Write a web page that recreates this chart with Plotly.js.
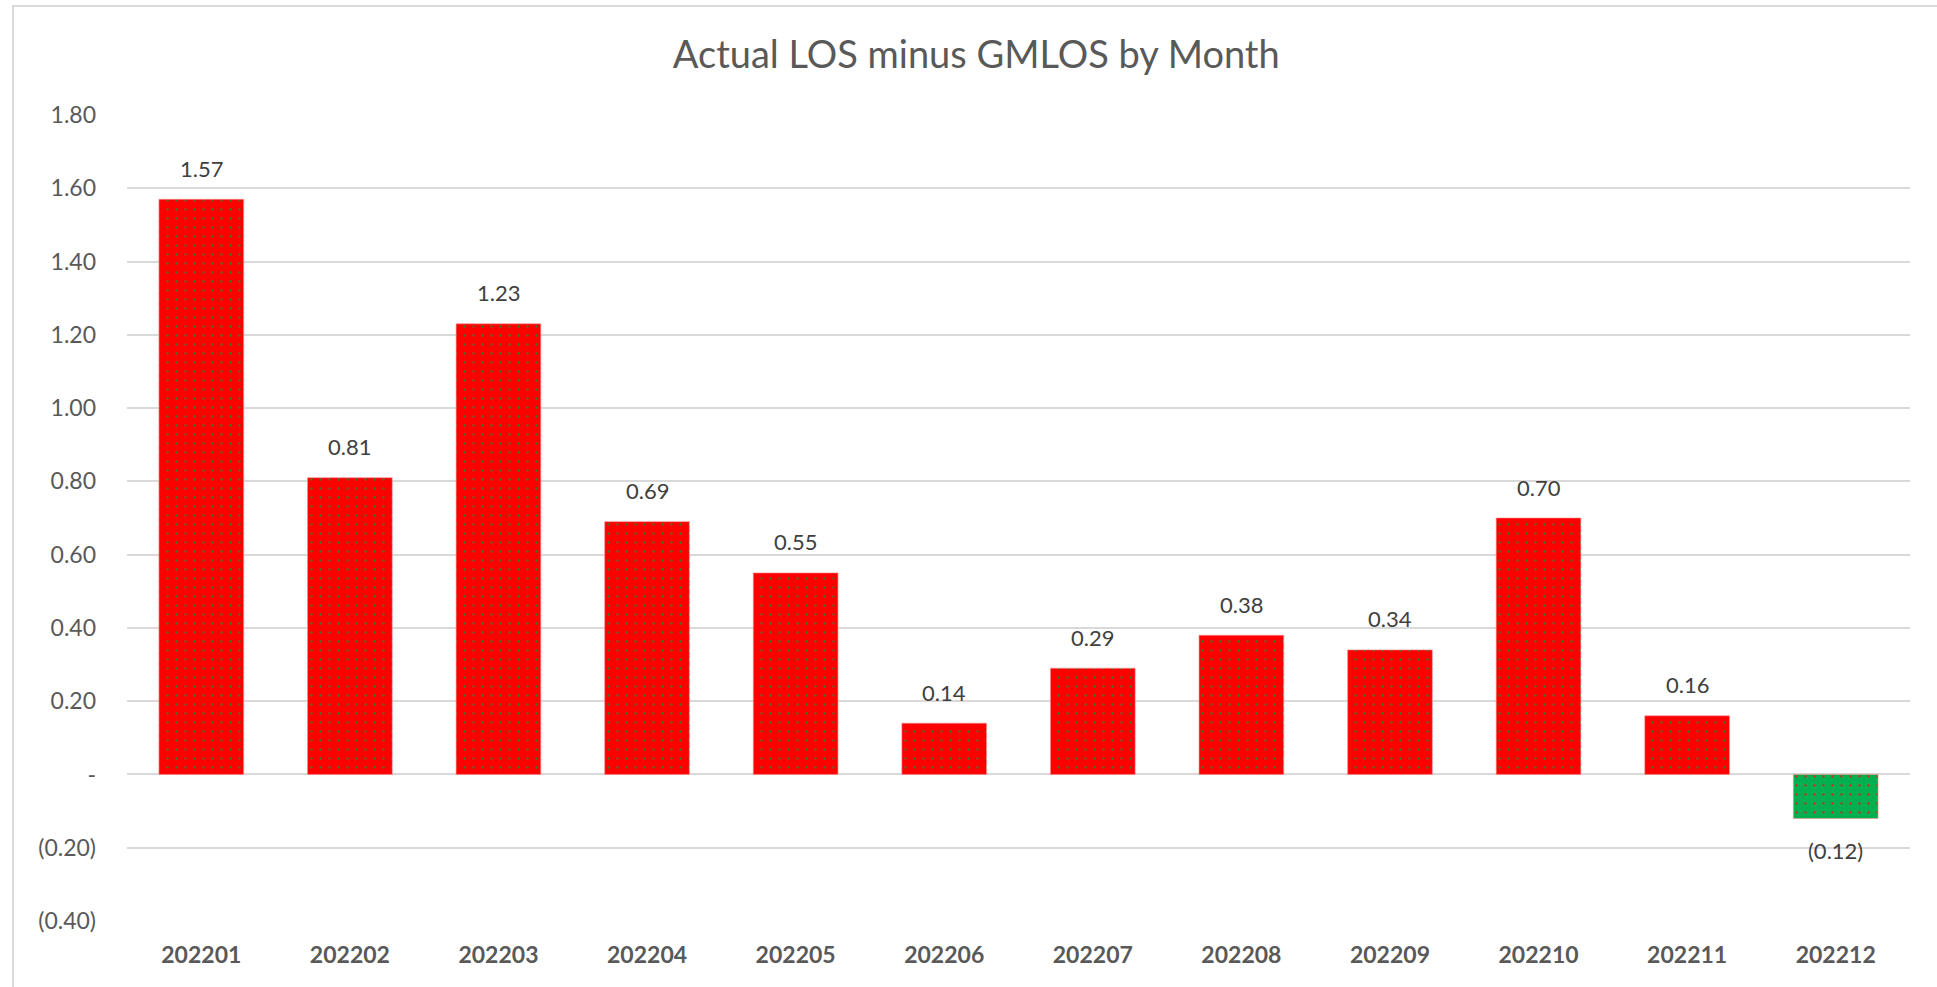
<!DOCTYPE html>
<html>
<head>
<meta charset="utf-8">
<script src="https://cdn.plot.ly/plotly-3.0.1.min.js"></script>
<style>
  html, body { margin: 0; padding: 0; background: #ffffff; }
  #wrap { position: relative; width: 1937px; height: 987px; overflow: hidden; }
  #frame { position: absolute; left: 12px; top: 5px; width: 1980px; height: 1040px;
           border-left: 2px solid #d9d9d9; border-top: 2px solid #d9d9d9; box-sizing: border-box; }
  #chart { position: absolute; left: 0; top: 0; width: 1937px; height: 987px; }
</style>
</head>
<body>
<div id="wrap">
  <div id="frame"></div>
  <div id="chart"></div>
</div>
<script>
const months = ["202201","202202","202203","202204","202205","202206","202207","202208","202209","202210","202211","202212"];
const losDiff = [1.57, 0.81, 1.23, 0.69, 0.55, 0.14, 0.29, 0.38, 0.34, 0.70, 0.16, -0.12];
const yTickVals = [-0.4, -0.2, 0, 0.2, 0.4, 0.6, 0.8, 1.0, 1.2, 1.4, 1.6, 1.8];
const yTickText = ["(0.40)", "(0.20)", "-", "0.20", "0.40", "0.60", "0.80", "1.00", "1.20", "1.40", "1.60", "1.80"];

const fmt = v => v < 0 ? "(" + Math.abs(v).toFixed(2) + ")" : v.toFixed(2);

function barTrace(values, fill, dot) {
  return {
    type: "bar",
    x: months,
    y: values,
    marker: {
      color: fill,
      line: { color: "rgba(255,140,140,0.6)", width: 1 },
      pattern: { shape: ".", fgcolor: dot, bgcolor: fill, fgopacity: 1,
                 size: 9, solidity: 0.05, fillmode: "replace" }
    },
    hoverinfo: "skip",
    showlegend: false
  };
}

const positive = losDiff.map(v => v >= 0 ? v : null);
const negative = losDiff.map(v => v < 0 ? v : null);

const traces = [
  barTrace(positive, "#FF0000", "#2E7D32"),
  barTrace(negative, "#00B050", "#E0201A")
];

// annotations placed by category index on the category axis
const annotations = months.map((m, i) => ({
  x: i, y: losDiff[i], xref: "x", yref: "y",
  text: fmt(losDiff[i]), showarrow: false,
  yanchor: "middle", yshift: losDiff[i] < 0 ? -32 : 31,
  font: { family: "Lato, 'Open Sans', sans-serif", size: 22, color: "#404040" }
}));

const layout = {
  width: 1937, height: 987,
  margin: { l: 127, r: 27, t: 115, b: 66, pad: 0 },
  paper_bgcolor: "rgba(0,0,0,0)",
  plot_bgcolor: "rgba(0,0,0,0)",
  title: {
    text: "Actual LOS minus GMLOS by Month",
    x: 0.504, xanchor: "center", y: 0.945, yanchor: "middle",
    font: { family: "Lato, 'Open Sans', sans-serif", size: 38, color: "#595959" }
  },
  barmode: "overlay",
  bargap: 0.43,
  xaxis: {
    type: "category",
    categoryorder: "array", categoryarray: months,
    range: [-0.5, months.length - 0.5],
    showgrid: false, zeroline: false, showline: false, ticks: "",
    ticklabelstandoff: 18,
    tickfont: { family: "Lato, 'Open Sans', sans-serif", size: 23, color: "#595959", weight: "bold" }
  },
  yaxis: {
    range: [-0.4, 1.8],
    tickvals: yTickVals, ticktext: yTickText,
    showgrid: true, gridcolor: "#d9d9d9", gridwidth: 2,
    zeroline: true, zerolinecolor: "#d9d9d9", zerolinewidth: 2,
    showline: false, ticks: "",
    ticklabelstandoff: 30,
    tickfont: { family: "Lato, 'Open Sans', sans-serif", size: 23, color: "#595959" }
  },
  annotations: annotations
};

Plotly.newPlot("chart", traces, layout, { displayModeBar: false, staticPlot: true });
</script>
</body>
</html>
